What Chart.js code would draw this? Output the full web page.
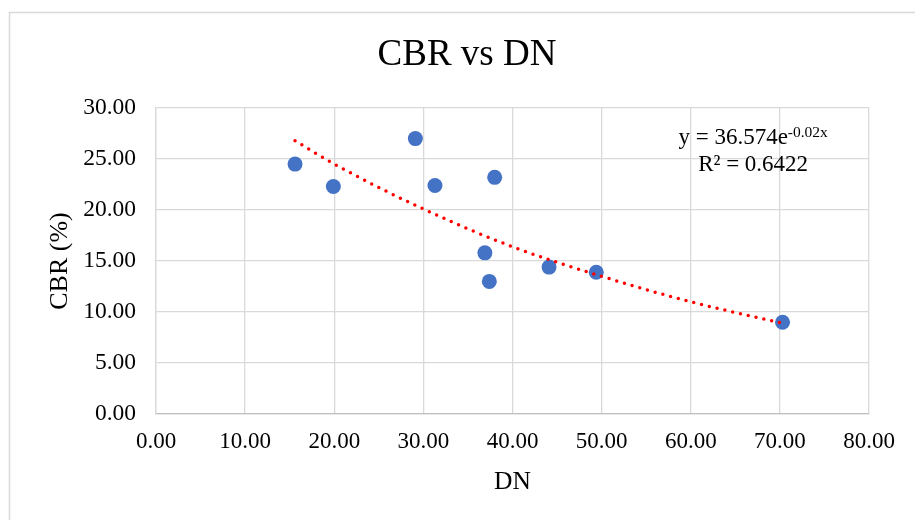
<!DOCTYPE html>
<html>
<head>
<meta charset="utf-8">
<script src="https://cdn.jsdelivr.net/npm/chart.js@4"></script>
<style>
  html, body { margin: 0; padding: 0; background: #fff; }
  #wrap { width: 915px; height: 520px; }
</style>
</head>
<body>
<div id="wrap"><canvas id="chart" width="915" height="520"></canvas></div>
<script>
// data
const dnValues = [15.6, 19.9, 29.1, 31.3, 36.9, 37.4, 38.0, 44.1, 49.4, 70.3];
const cbrValues = [24.5, 22.3, 27.0, 22.4, 15.8, 13.0, 23.2, 14.4, 13.9, 9.0];

// exponential trendline, sampled along the drawn curve
const trendX = [15.6, 20, 30, 40, 50, 60, 70.3];
const trendY = [26.8, 24.5, 20.1, 16.4, 13.5, 11.0, 8.9];

const equationText = "y = 36.574e";
const equationExp = "-0.02x";
const r2Text = "R\u00B2 = 0.6422";

const serif = "'Liberation Serif', 'Times New Roman', serif";

const toPoints = (xs, ys) => xs.map((x, i) => ({ x: x, y: ys[i] }));

// white background + light frame like the Excel chart area
const framePlugin = {
    id: "frame",
    beforeDraw(chart) {
        const ctx = chart.ctx;
        ctx.save();
        ctx.fillStyle = "#fff";
        ctx.fillRect(0, 0, chart.width, chart.height);
        ctx.strokeStyle = "#d9d9d9";
        ctx.lineWidth = 1.5;
        ctx.strokeRect(9.5, 12.5, 1200, 1200);
        ctx.restore();
    },
};

// trendline equation label
const equationPlugin = {
    id: "equation",
    afterDatasetsDraw(chart) {
        const ctx = chart.ctx;
        const xs = chart.scales.x;
        const ys = chart.scales.y;
        const cx = xs.getPixelForValue(67.0);
        const y1 = ys.getPixelForValue(26.5);
        const y2 = ys.getPixelForValue(23.8);
        ctx.save();
        ctx.fillStyle = "#000";
        ctx.textBaseline = "alphabetic";
        ctx.font = "23px " + serif;
        const w1 = ctx.measureText(equationText).width;
        ctx.font = "15.5px " + serif;
        const w2 = ctx.measureText(equationExp).width;
        const left = cx - (w1 + w2) / 2;
        ctx.font = "23px " + serif;
        ctx.textAlign = "left";
        ctx.fillText(equationText, left, y1);
        ctx.font = "15.5px " + serif;
        ctx.fillText(equationExp, left + w1, y1 - 7);
        ctx.font = "23px " + serif;
        ctx.textAlign = "center";
        ctx.fillText(r2Text, cx, y2);
        ctx.restore();
    },
};

const canvas = document.getElementById("chart");

const chart = new Chart(canvas, {
    type: "scatter",
    data: {
        datasets: [
            {
                label: "Expon.",
                data: toPoints(trendX, trendY),
                showLine: true,
                borderColor: "#ff0000",
                borderWidth: 3.5,
                borderDash: [0, 8],
                borderCapStyle: "round",
                cubicInterpolationMode: "monotone",
                pointRadius: 0,
                fill: false,
                order: 0,
            },
            {
                label: "CBR",
                data: toPoints(dnValues, cbrValues),
                backgroundColor: "#4472c4",
                borderColor: "#4472c4",
                pointRadius: 7.5,
                pointBorderWidth: 0,
                order: 1,
            },
        ],
    },
    options: {
        responsive: false,
        animation: false,
        layout: {
            // left padding shifts the title centre to match the original
            padding: { left: 65, right: 46, top: 0, bottom: 0 },
        },
        plugins: {
            legend: { display: false },
            tooltip: { enabled: false },
            title: {
                display: true,
                text: "CBR vs DN",
                color: "#000",
                font: { family: serif, size: 37, weight: "normal", lineHeight: 1.2 },
                padding: { top: 32.8, bottom: 30.8 },
            },
        },
        scales: {
            x: {
                type: "linear",
                min: 0,
                max: 80,
                afterFit(scale) { scale.height = 106; },
                ticks: {
                    stepSize: 10,
                    padding: 14,
                    color: "#000",
                    font: { family: serif, size: 23 },
                    maxRotation: 0,
                    callback: (v) => v.toFixed(2),
                },
                grid: { color: "#d9d9d9", lineWidth: 1.3, drawTicks: false },
                border: { color: "#bfbfbf", width: 1.3 },
                title: {
                    display: true,
                    text: "DN",
                    color: "#000",
                    font: { family: serif, size: 25.5, lineHeight: 1.2 },
                    padding: { top: 0, bottom: 22.7 },
                },
            },
            y: {
                type: "linear",
                min: 0,
                max: 30,
                afterFit(scale) { scale.width = 91; },
                ticks: {
                    stepSize: 5,
                    padding: 20,
                    color: "#000",
                    font: { family: serif, size: 23.5 },
                    callback: (v) => v.toFixed(2),
                },
                grid: { color: "#d9d9d9", lineWidth: 1.3, drawTicks: false },
                border: { color: "#d9d9d9", width: 1.3 },
                title: {
                    display: true,
                    text: "CBR (%)",
                    color: "#000",
                    font: { family: serif, size: 26, lineHeight: 1.2 },
                    padding: { top: -20.6, bottom: 0 },
                },
            },
        },
    },
    plugins: [framePlugin, equationPlugin],
});
</script>
</body>
</html>
